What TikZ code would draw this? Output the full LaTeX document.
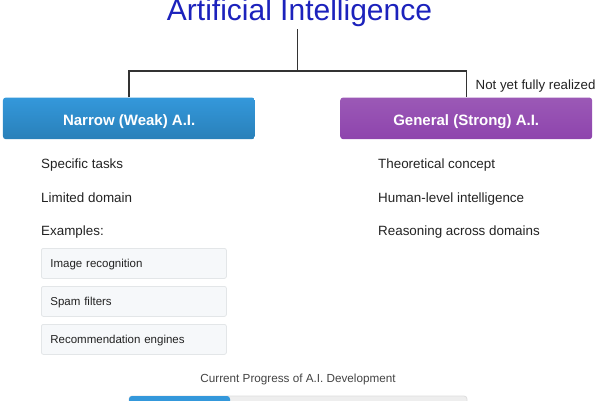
\documentclass[tikz,border=0pt]{standalone}
\usepackage{fontspec}
\setmainfont{Liberation Sans}
\definecolor{titleblue}{HTML}{1C22BC}
\definecolor{peter}{HTML}{3498DB}
\definecolor{belize}{HTML}{2980B9}
\definecolor{ameth}{HTML}{9B59B6}
\definecolor{wist}{HTML}{8E44AD}
\definecolor{linegray}{HTML}{333333}
\definecolor{textgray}{HTML}{222222}
\definecolor{exfill}{HTML}{F6F8FA}
\definecolor{exborder}{HTML}{E3E6E8}
\definecolor{barbg}{HTML}{EEEEEE}
\definecolor{barborder}{HTML}{DDDDDD}
\tikzset{
  conn/.style={draw=linegray, line width=1.3pt},
  headbox/.style={rounded corners=3pt, minimum width=252pt, minimum height=41.7pt, inner sep=0pt},
  headtext/.style={text=white, font=\fontsize{15}{18}\selectfont\bfseries, anchor=base},
  itemtext/.style={text=textgray, font=\fontsize{13.4}{16}\selectfont, anchor=base west, inner sep=0pt},
  exbox/.style={draw=exborder, line width=0.8pt, fill=exfill, rounded corners=2pt, anchor=north west,
    minimum height=30pt, text width=167pt, inner xsep=9pt, inner ysep=0pt, text height=8.2pt, text depth=0pt,
    text=textgray, font=\fontsize{11.5}{13}\selectfont, align=left},
}
\begin{document}
\begin{tikzpicture}[x=1pt,y=-1pt]
\useasboundingbox (0,0) rectangle (600,400);
% title
\node[text=titleblue, font=\fontsize{30}{36}\selectfont, anchor=base, inner sep=0pt] (title) at (299.5,20) {Artificial Intelligence};
% header boxes
\node[headbox, top color=peter, bottom color=belize, anchor=north west] (narrow) at (2.7,97.3) {};
\node[headtext] (narrowt) at (129.2,125) {Narrow (Weak) A.I.};
\node[headbox, top color=ameth, bottom color=wist, anchor=north west] (general) at (340,97.3) {};
\node[headtext] (generalt) at (466.2,125) {General (Strong) A.I.};
% connectors
\coordinate (top) at (297.5,29);
\coordinate (mid) at (297.5,71);
\draw[conn] (top) -- (mid);
\draw[conn] (narrow.north) |- (mid) -| (general.north);
\node[text=textgray, font=\fontsize{13.3}{16}\selectfont, anchor=base west, inner sep=0pt] (note) at (475.5,89.3) {Not yet fully realized};
% left list
\node[itemtext] (l1) at (41,168.5) {Specific tasks};
\node[itemtext] (l2) at (41,202) {Limited domain};
\node[itemtext] (l3) at (41,235.5) {Examples:};
\node[exbox] (e1) at (41,248) {Image recognition};
\node[exbox] (e2) at (41,286) {Spam filters};
\node[exbox] (e3) at (41,324) {Recommendation engines};
% right list
\node[itemtext] (r1) at (378,168.5) {Theoretical concept};
\node[itemtext] (r2) at (378,202) {Human-level intelligence};
\node[itemtext] (r3) at (378,235.5) {Reasoning across domains};
% progress
\node[text=textgray!85, font=\fontsize{11.7}{14}\selectfont, anchor=base, inner sep=0pt] (plabel) at (298,382.7) {Current Progress of A.I. Development};
\draw[draw=barborder, fill=barbg, rounded corners=3pt, line width=0.8pt] (129,396) rectangle (467,412);
\fill[peter, rounded corners=3pt] (129,396) rectangle (230,412);
\end{tikzpicture}
\end{document}
